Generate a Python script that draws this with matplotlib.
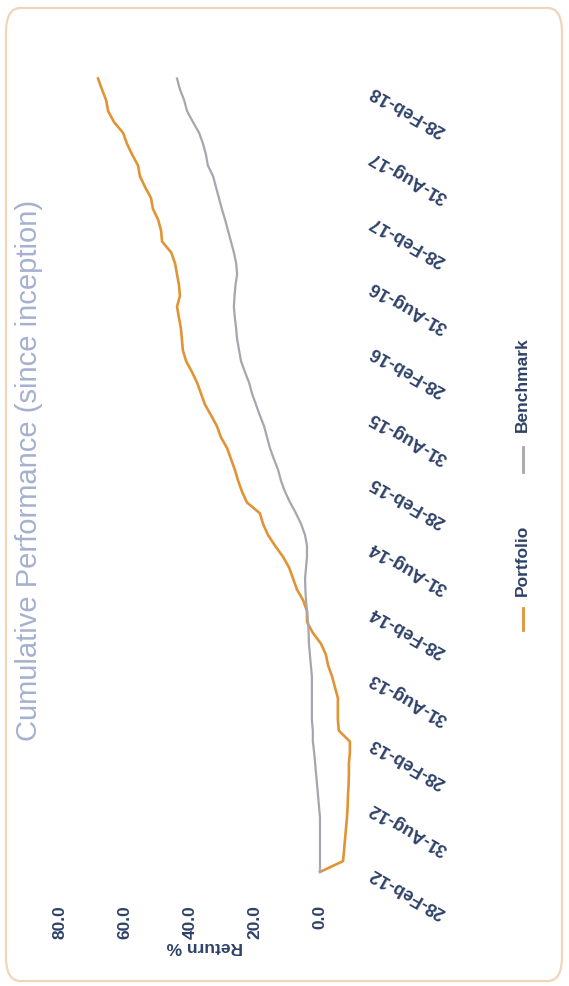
import numpy as np
import matplotlib.pyplot as plt
from matplotlib.lines import Line2D
from matplotlib.patches import FancyBboxPatch

plt.rcParams['font.family'] = ['Liberation Sans', 'DejaVu Sans']

W, H = 569, 986
TEXT = '#2e4168'
ORANGE = '#e19436'
GREY = '#a6a6ae'

# month index 0 = 28-Feb-12, monthly points
months = np.arange(74)
tick_months = list(range(0, 73, 6))
tick_labels = ['28-Feb-12', '31-Aug-12', '28-Feb-13', '31-Aug-13', '28-Feb-14',
               '31-Aug-14', '28-Feb-15', '31-Aug-15', '28-Feb-16', '31-Aug-16',
               '28-Feb-17', '31-Aug-17', '28-Feb-18']
return_ticks = [0, 20, 40, 60, 80]

portfolio = [0.0, -7.1, -7.4, -7.7, -8.0, -8.3, -8.5, -8.6, -8.8, -8.9,
             -8.9, -9.2, -9.2, -5.8, -5.5, -5.5, -5.5, -4.6, -3.7, -2.5,
             -1.8, -0.3, 2.2, 4.0, 4.0, 5.2, 7.1, 8.3, 9.5, 11.4,
             13.8, 16.0, 17.5, 18.5, 22.5, 24.0, 25.2, 26.2, 27.4, 28.6,
             30.5, 31.7, 33.5, 35.4, 36.6, 37.8, 39.4, 41.2, 42.2, 42.5,
             42.8, 43.4, 44.0, 43.1, 43.4, 44.0, 44.6, 45.8, 48.6, 48.9,
             49.8, 51.4, 52.0, 53.8, 55.4, 56.0, 57.8, 59.4, 60.6, 63.4,
             65.2, 65.8, 67.1, 68.3]
benchmark = [0.0, 0.0, 0.0, 0.0, 0.0, 0.0, 0.3, 0.6, 0.9, 1.2,
             1.5, 1.8, 2.2, 2.2, 2.5, 2.5, 2.5, 2.5, 2.5, 2.8,
             3.1, 3.4, 3.5, 3.7, 4.0, 4.3, 4.5, 4.6, 4.3, 4.0,
             4.0, 4.6, 5.8, 7.4, 9.2, 10.8, 12.0, 12.9, 14.2, 15.4,
             16.3, 17.2, 18.5, 19.7, 20.9, 21.8, 23.1, 24.3, 24.9, 25.5,
             25.8, 26.2, 26.5, 26.3, 26.0, 25.5, 25.8, 26.5, 27.4, 28.3,
             29.2, 30.2, 31.1, 32.0, 32.9, 34.5, 35.1, 36.0, 37.2, 39.1,
             40.9, 41.8, 43.1, 44.0]


def fx(x):
    return x / W


def fy(y):
    return 1 - y / H


fig = plt.figure(figsize=(W / 100, H / 100), dpi=100)

# scanned-card border
fig.add_artist(FancyBboxPatch((fx(6), fy(981)), fx(556), 973 / H,
                              boxstyle='round,pad=0,rounding_size=0.025',
                              transform=fig.transFigure, facecolor='none',
                              edgecolor='#efd6bb', lw=1.6))

# the chart is drawn turned a quarter turn: return runs right-to-left, time runs upward
ax = fig.add_axes([fx(50), fy(890), fx(310), 830 / H])
ax.plot(portfolio, months, color=ORANGE, lw=1.9)
ax.plot(benchmark, months, color=GREY, lw=1.6)
ax.set_xlim(83.08, -12.31)
ax.set_ylim(-1.66, 74.7)

ax.set_xticks(return_ticks)
ax.set_xticklabels([f'{v:.1f}' for v in return_ticks], rotation=90,
                   fontsize=12.5, fontweight='bold', color=TEXT)
ax.tick_params(axis='x', length=0, pad=11)

ax.yaxis.tick_right()
ax.set_yticks(tick_months)
ax.set_yticklabels(tick_labels, rotation=150, ha='right', va='center',
                   rotation_mode='anchor', fontsize=13, fontweight='bold',
                   color=TEXT)
ax.tick_params(axis='y', length=0, pad=8)
for s in ax.spines.values():
    s.set_visible(False)

fig.text(fx(205), fy(947), 'Return %', rotation=180, ha='center', va='center',
         fontsize=12.5, fontweight='bold', color=TEXT)
fig.text(fx(29), fy(470), 'Cumulative Performance (since inception)', rotation=90,
         ha='center', va='center', fontsize=21, color='#a6b0cf')

# legend, turned with the chart
fig.add_artist(Line2D([fx(523), fx(523)], [fy(630), fy(608)], color=ORANGE, lw=2))
fig.text(fx(522), fy(560), 'Portfolio', rotation=90, ha='center', va='center',
         fontsize=12.5, fontweight='bold', color=TEXT)
fig.add_artist(Line2D([fx(523), fx(523)], [fy(472), fy(447)], color=GREY, lw=2))
fig.text(fx(522), fy(385), 'Benchmark', rotation=90, ha='center', va='center',
         fontsize=12.5, fontweight='bold', color=TEXT)

fig.savefig('out.png', dpi=100)
